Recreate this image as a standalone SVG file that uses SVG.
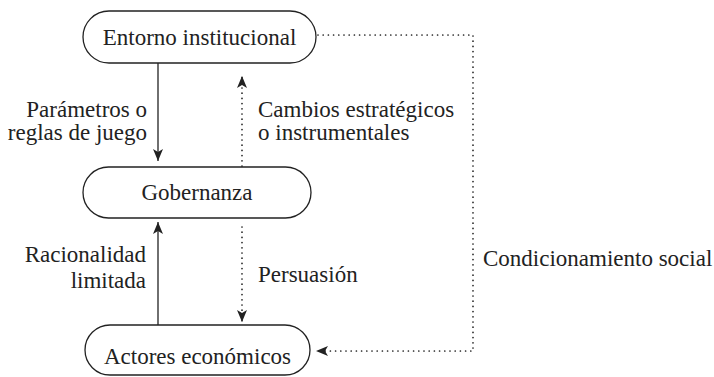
<svg xmlns="http://www.w3.org/2000/svg" width="714" height="377" viewBox="0 0 714 377">
<style>
.box{fill:#fff;stroke:#222;stroke-width:1.3}
text{font-family:"Liberation Serif","Times New Roman",serif;font-size:23px;fill:#222}
.c{text-anchor:middle}
.r{text-anchor:end}
.solid{fill:none;stroke:#222;stroke-width:1.3}
.dot{fill:none;stroke:#222;stroke-width:1.7;stroke-linecap:round;stroke-dasharray:0 5.2}
</style>
<defs>
<marker id="ah" viewBox="0 0 12 10" refX="12" refY="5" markerWidth="12" markerHeight="10" markerUnits="userSpaceOnUse" orient="auto">
<path d="M0,0 L12,5 L0,10 L3,5 Z" fill="#222"/>
</marker>
</defs>
<rect width="714" height="377" fill="#fff"/>
<g id="connectors">
<line class="solid" x1="158" y1="63" x2="158" y2="161" marker-end="url(#ah)"/>
<line class="dot" x1="242" y1="166" x2="242" y2="76" marker-end="url(#ah)"/>
<line class="solid" x1="158" y1="325" x2="158" y2="222" marker-end="url(#ah)"/>
<line class="dot" x1="242" y1="227" x2="242" y2="322" marker-end="url(#ah)"/>
<polyline class="dot" points="318,35 473,35 473,351 318,351"/>
<line x1="330" y1="351" x2="316" y2="351" stroke="none" marker-end="url(#ah)"/>
</g>
<g id="entorno">
<rect class="box" x="83" y="11" width="233" height="52" rx="26"/>
<text class="c" x="199.5" y="45">Entorno institucional</text>
</g>
<g id="gobernanza">
<rect class="box" x="83" y="167" width="228" height="51" rx="25.5"/>
<text class="c" x="197" y="200">Gobernanza</text>
</g>
<g id="actores">
<rect class="box" x="85" y="325" width="225" height="50" rx="25"/>
<text class="c" x="197.5" y="364">Actores económicos</text>
</g>
<g id="labels">
<text class="r" x="147" y="117">Parámetros o</text>
<text class="r" x="147" y="140">reglas de juego</text>
<text x="258" y="117">Cambios estratégicos</text>
<text x="258" y="140">o instrumentales</text>
<text class="r" x="146" y="262">Racionalidad</text>
<text class="r" x="146" y="288">limitada</text>
<text x="258" y="282">Persuasión</text>
<text x="483" y="266">Condicionamiento social</text>
</g>
</svg>
